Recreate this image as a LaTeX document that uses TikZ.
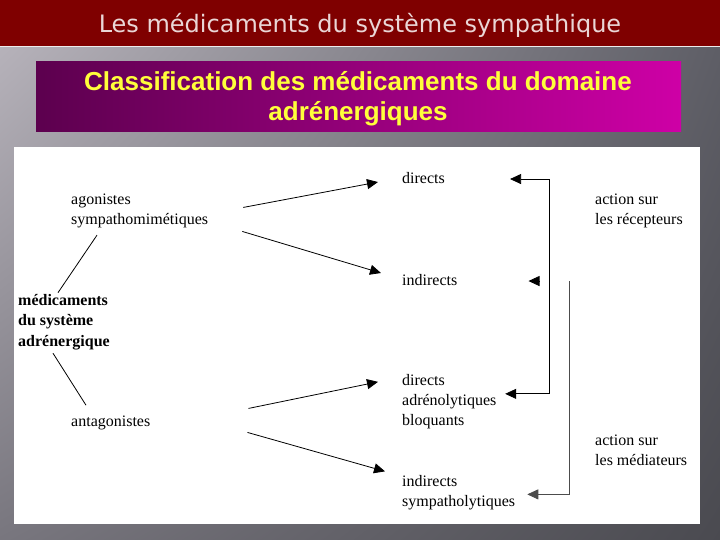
\documentclass[tikz,border=0pt]{standalone}
\usepackage{fontspec}
\setmainfont{Liberation Serif}
\newfontfamily\bannerfont{DejaVu Sans}
\newfontfamily\boxfont{Liberation Sans}
\usetikzlibrary{arrows.meta,shadings}
\definecolor{bannerred}{HTML}{7F0000}
\definecolor{bannertext}{HTML}{EAD6D6}
\definecolor{bgA}{HTML}{B6B2BA}
\definecolor{bgB}{HTML}{78767E}
\definecolor{bgC}{HTML}{5E5E66}
\definecolor{bgD}{HTML}{4A4A50}
\definecolor{purpleL}{HTML}{5C004E}
\definecolor{purpleR}{HTML}{CE00A6}
\definecolor{titleyellow}{HTML}{FFFF3A}
\tikzset{
  txt/.style={anchor=base west, inner sep=0pt, align=left, font=\fontsize{16}{20}\selectfont},
  txtb/.style={txt, font=\fontsize{16}{20.5}\selectfont\bfseries},
  flecha/.style={-{Triangle[length=11pt,width=10pt]}, line width=0.8pt},
  doble/.style={{Triangle[length=11pt,width=10pt]}-{Triangle[length=11pt,width=10pt]}, line width=0.8pt},
}
\begin{document}
\begin{tikzpicture}[x=1pt,y=-1pt]
\useasboundingbox (0,0) rectangle (720,540);
% fond
\shade[upper left=bgA, lower left=bgB, upper right=bgC, lower right=bgD] (0,46) rectangle (720,540);
\fill[bannerred] (0,0) rectangle (720,46);
\draw[white!85!gray, line width=1.5pt] (0,46.5) -- (720,46.5);
\node[anchor=base, font=\bannerfont\fontsize{24}{28}\selectfont, text=bannertext] (titre) at (360,33) {Les médicaments du système sympathique};
\shade[left color=purpleL, right color=purpleR] (36,62) rectangle (681,132);
\node[anchor=base, align=center, font=\boxfont\bfseries\fontsize{26}{30}\selectfont, text=titleyellow] (classif) at (358,121) {Classification des médicaments du domaine\\adrénergiques};
\fill[white] (14,147) rectangle (700,524);
% textes
\node[txtb] (medic) at (18,346) {médicaments\\du système\\adrénergique};
\node[txt] (agon) at (71,225) {agonistes\\sympathomimétiques};
\node[txt] (anta) at (71,426) {antagonistes};
\node[txt] (dirA) at (402,184) {directs};
\node[txt] (indA) at (402,285) {indirects};
\node[txt] (dirB) at (402,425) {directs\\adrénolytiques\\bloquants};
\node[txt] (indB) at (402,506) {indirects\\sympatholytiques};
\node[txt] (recep) at (595,225) {action sur\\les récepteurs};
\node[txt] (media) at (595,465) {action sur\\les médiateurs};
% liens
\draw[line width=0.8pt] ([xshift=26pt,yshift=-6.5pt]agon.south west) -- ([xshift=40pt,yshift=1pt]medic.north west);
\draw[line width=0.8pt] ([xshift=35pt,yshift=-3.5pt]medic.south west) -- ([xshift=15pt,yshift=10pt]anta.north west);
\draw[flecha] ([xshift=35pt,yshift=4pt]agon.east) -- ([xshift=-24pt,yshift=-3.5pt]dirA.west);
\draw[flecha] ([xshift=34pt,yshift=-20pt]agon.east) -- ([xshift=-21pt,yshift=6.5pt]indA.west);
\draw[flecha] ([xshift=98pt,yshift=14pt]anta.east) -- ([xshift=-24pt,yshift=19.3pt]dirB.west);
\draw[flecha] ([xshift=97pt,yshift=-10pt]anta.east) -- ([xshift=-17pt,yshift=20.8pt]indB.west);
\draw[doble] ([xshift=65pt,yshift=-0.5pt]dirA.east) -| ([xshift=52.6pt,yshift=7.3pt]dirB.east) -- ([xshift=8.6pt,yshift=7.3pt]dirB.east);
\draw[flecha] ([xshift=81pt,yshift=-1.5pt]indA.east) -- ([xshift=71pt,yshift=-1.5pt]indA.east);
\draw[flecha, gray!60!black] ([xshift=112pt,yshift=-1.5pt]indA.east) |- ([xshift=12pt,yshift=-2.2pt]indB.east);
\end{tikzpicture}
\end{document}
